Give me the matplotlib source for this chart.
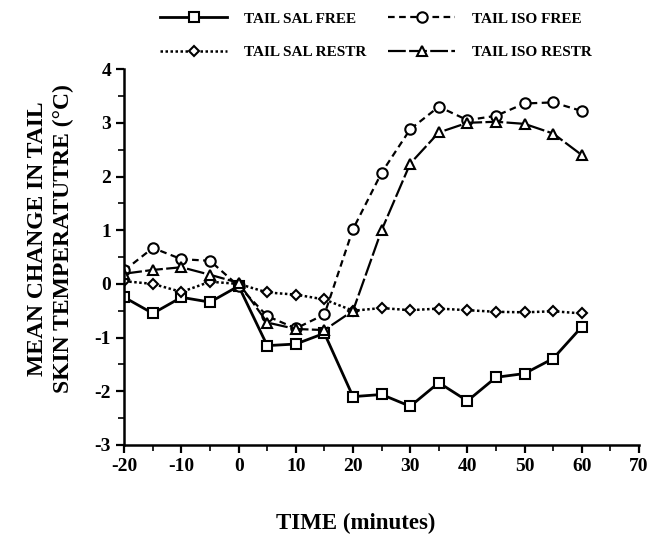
import matplotlib
matplotlib.use("Agg")
import matplotlib.pyplot as plt
from matplotlib.ticker import MultipleLocator

time = [-20, -15, -10, -5, 0, 5, 10, 15, 20, 25, 30, 35, 40, 45, 50, 55, 60]

sal_free = [-0.25, -0.55, -0.25, -0.34, -0.04, -1.15, -1.12, -0.92, -2.1, -2.06, -2.28, -1.84, -2.18, -1.74, -1.67, -1.39, -0.8]
iso_free = [0.25, 0.67, 0.46, 0.43, -0.04, -0.6, -0.83, -0.57, 1.02, 2.07, 2.88, 3.3, 3.05, 3.13, 3.36, 3.38, 3.22]
sal_restr = [0.05, 0.0, -0.15, 0.04, 0.0, -0.16, -0.2, -0.29, -0.5, -0.45, -0.49, -0.46, -0.49, -0.52, -0.53, -0.51, -0.55]
iso_restr = [0.19, 0.26, 0.31, 0.17, 0.02, -0.72, -0.84, -0.86, -0.5, 1.0, 2.24, 2.82, 3.0, 3.02, 2.98, 2.8, 2.4]

plt.rcParams['font.family'] = ['Liberation Serif', 'DejaVu Serif']
plt.rcParams['font.weight'] = 'bold'
plt.rcParams['axes.unicode_minus'] = False

fig = plt.figure(figsize=(6.54, 5.4), dpi=100)
ax = fig.add_axes([0.19, 0.176, 0.787, 0.696])

mk = dict(markerfacecolor='white', markeredgecolor='black', markeredgewidth=1.5)
l1, = ax.plot(time, sal_free, color='black', lw=2, marker='s', markersize=7.5, label='TAIL SAL FREE', **mk)
l3, = ax.plot(time, sal_restr, color='black', lw=1.8, ls=(0, (1, 1)), marker='D', markersize=5.5, label='TAIL SAL RESTR', **mk)
l2, = ax.plot(time, iso_free, color='black', lw=1.6, ls=(0, (3, 2)), marker='o', markersize=7.5, label='TAIL ISO FREE', **mk)
l4, = ax.plot(time, iso_restr, color='black', lw=1.6, ls=(0, (8, 1.5)), marker='^', markersize=6.5, label='TAIL ISO RESTR', **mk)

ax.set_xlim(-20, 70)
ax.set_ylim(-3, 4)
ax.xaxis.set_major_locator(MultipleLocator(10))
ax.xaxis.set_minor_locator(MultipleLocator(5))
ax.yaxis.set_major_locator(MultipleLocator(1))
ax.yaxis.set_minor_locator(MultipleLocator(0.5))

ax.spines['top'].set_visible(False)
ax.spines['right'].set_visible(False)
ax.spines['left'].set_linewidth(1.8)
ax.spines['bottom'].set_linewidth(1.8)
ax.tick_params(which='major', direction='out', length=6, width=1.6, labelsize=14)
ax.tick_params(which='minor', direction='out', length=4, width=1.2)
for t in ax.get_xticklabels() + ax.get_yticklabels():
    t.set_fontweight('bold')

ax.set_xlabel('TIME (minutes)', fontsize=16.5, fontweight='bold')
ax.xaxis.set_label_coords(0.449, -0.18)
ax.set_ylabel('MEAN CHANGE IN TAIL\nSKIN TEMPERATUTRE (°C)', fontsize=17, fontweight='bold',
              linespacing=1.3)
ax.yaxis.set_label_coords(-0.097, 0.548)

fig.legend(handles=[l1, l3, l2, l4], ncol=2, loc='upper center', bbox_to_anchor=(0.575, 1.003),
           frameon=False, prop={'size': 11, 'weight': 'bold'}, handlelength=4.4,
           handletextpad=1.1, columnspacing=1.4, labelspacing=1.3)

fig.savefig('out.png', dpi=100)
